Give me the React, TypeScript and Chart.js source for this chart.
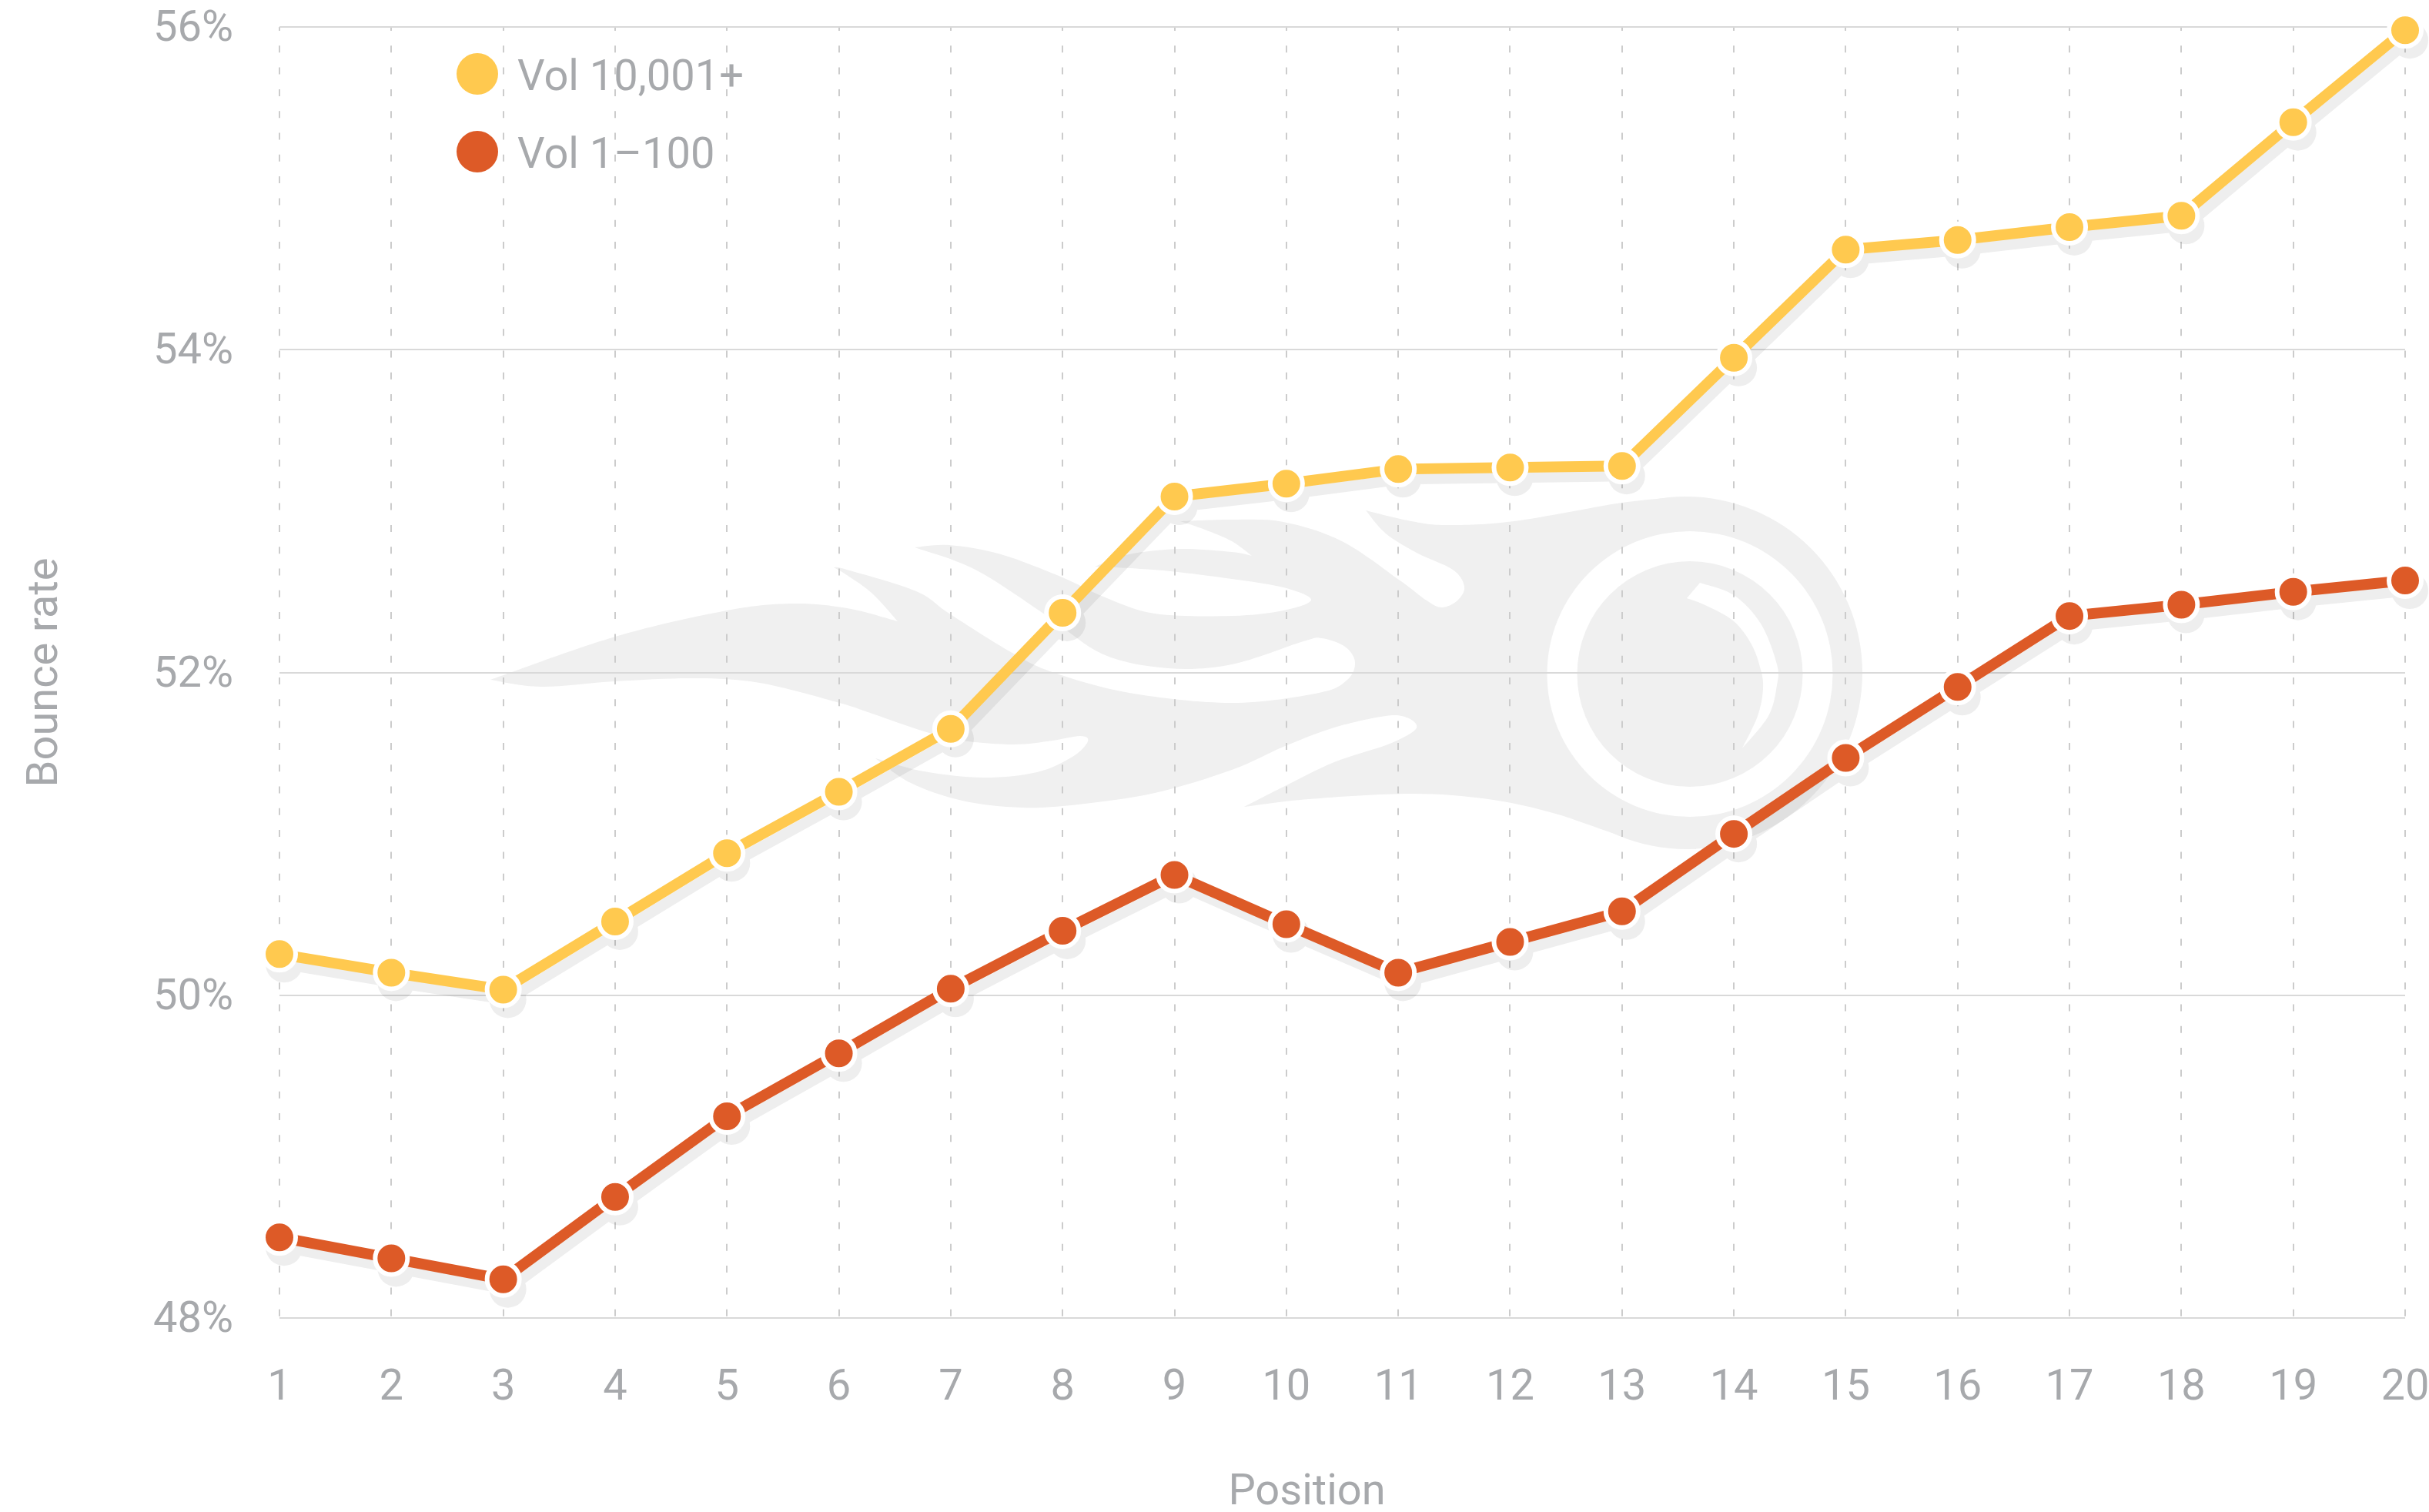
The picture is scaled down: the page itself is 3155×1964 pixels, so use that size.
import React, { useEffect, useRef } from "react";
import { Chart, registerables } from "chart.js";

Chart.register(...registerables);

const positions = ["1","2","3","4","5","6","7","8","9","10","11","12","13","14","15","16","17","18","19","20"];
const volHigh = [50.255,50.14,50.035,50.457,50.88,51.26,51.65,52.37,53.09,53.17,53.26,53.27,53.28,53.95,54.62,54.68,54.76,54.83,55.41,55.98];
const volLow = [48.5,48.37,48.24,48.75,49.25,49.64,50.04,50.4,50.745,50.44,50.14,50.33,50.52,51.0,51.47,51.91,52.35,52.42,52.5,52.57];
const seriesNames = ["Vol 10,001+", "Vol 1\u2013100"];
const seriesColors = ["#ffc94f", "#dd5a27"];
const TEXT = "#a7a9ac";
const FONT_SIZE = 56;
const FONT_FAMILY = "Roboto";
const FONT_WEIGHT = "400";

type P = [number, number];
// Background brand watermark outline (decoration, not data)
const flame: P[][] = [
  [[637,883],[799,827],[944,793],[1030,784],[1100,790],[1166,807]],
  [[1166,807],[1133,771],[1100,747],[1083,737]],
  [[1083,737],[1100,740],[1190,768],[1233,797],[1313,847],[1367,873],[1467,900],[1600,913],[1713,900],[1750,883],[1760,860],[1747,840],[1717,829],[1693,833],[1600,863],[1517,868],[1433,850],[1360,800],[1267,740],[1188,711]],
  [[1188,711],[1233,708],[1300,720],[1380,750],[1433,775],[1500,797],[1600,800],[1667,793],[1703,779],[1667,763],[1600,752],[1520,742],[1450,737],[1422,736]],
  [[1422,736],[1467,720],[1533,713],[1600,717],[1626,722]],
  [[1626,722],[1600,703],[1565,688],[1533,677]],
  [[1533,677],[1600,675],[1667,678],[1743,703],[1817,753],[1853,780],[1873,789],[1893,780],[1902,762],[1887,740],[1840,718],[1800,693],[1774,663]],
  [[1774,663],[1833,677],[1880,682],[1967,677],[2107,653],[2190,645]],
  [[2203,1103],[2150,1098],[2100,1084],[2017,1056],[1933,1038],[1833,1031],[1700,1038],[1616,1048]],
  [[1616,1048],[1667,1022],[1733,990],[1800,968],[1833,952],[1840,942],[1827,932],[1800,930],[1733,945],[1667,970],[1600,1000],[1500,1030],[1400,1045],[1327,1049],[1250,1040],[1183,1017],[1137,985]],
  [[1137,985],[1200,1002],[1277,1010],[1347,1003],[1393,983],[1413,963],[1403,956],[1367,962],[1317,967],[1250,962],[1200,950],[1133,927],[1087,912],[987,887],[903,881],[799,885],[703,892],[637,883]],
];
const glintOuter: P[] = [[2208,757],[2252,773],[2287,810],[2308,863],[2308,890],[2297,930],[2263,972]];
const glintInner: P[] = [[2263,972],[2283,930],[2290,895],[2287,870],[2275,837],[2252,807],[2217,787],[2191,777]];

function smooth(ctx: any, pts: P[], move: boolean) {
  if (move) ctx.moveTo(pts[0][0], pts[0][1]);
  else ctx.lineTo(pts[0][0], pts[0][1]);
  for (let i = 0; i < pts.length - 1; i++) {
    const p0 = pts[Math.max(i - 1, 0)], p1 = pts[i], p2 = pts[i + 1], p3 = pts[Math.min(i + 2, pts.length - 1)];
    ctx.bezierCurveTo(
      p1[0] + (p2[0] - p0[0]) / 6, p1[1] + (p2[1] - p0[1]) / 6,
      p2[0] - (p3[0] - p1[0]) / 6, p2[1] - (p3[1] - p1[1]) / 6,
      p2[0], p2[1]
    );
  }
}

const watermark = {
  id: "watermark",
  beforeDraw(chart: any) {
    const ctx = chart.ctx;
    ctx.save();
    ctx.fillStyle = "#f0f0f0";
    ctx.beginPath();
    flame.forEach((seg, i) => smooth(ctx, seg, i === 0));
    ctx.closePath();
    ctx.fill();
    ctx.beginPath();
    ctx.arc(2190, 874, 229, 0, Math.PI * 2);
    ctx.fill();
    ctx.fillStyle = "#ffffff";
    ctx.beginPath();
    ctx.arc(2195, 875.5, 185.5, 0, Math.PI * 2);
    ctx.fill();
    ctx.fillStyle = "#f0f0f0";
    ctx.beginPath();
    ctx.arc(2195, 875.5, 146.5, 0, Math.PI * 2);
    ctx.fill();
    ctx.fillStyle = "#ffffff";
    ctx.beginPath();
    smooth(ctx, glintOuter, true);
    smooth(ctx, glintInner, false);
    ctx.closePath();
    ctx.fill();
    ctx.restore();
  },
};

const dropShadow = {
  id: "dropShadow",
  beforeDatasetsDraw(chart: any) {
    const off = document.createElement("canvas");
    off.width = chart.width;
    off.height = chart.height;
    const o = off.getContext("2d") as CanvasRenderingContext2D;
    o.fillStyle = "#eeeeee";
    o.strokeStyle = "#eeeeee";
    o.lineWidth = 14;
    o.lineJoin = "round";
    chart.data.datasets.forEach((_: any, i: number) => {
      const pts = chart.getDatasetMeta(i).data;
      o.beginPath();
      pts.forEach((p: any, j: number) => (j ? o.lineTo(p.x + 6, p.y + 13) : o.moveTo(p.x + 6, p.y + 13)));
      o.stroke();
      pts.forEach((p: any) => {
        o.beginPath();
        o.arc(p.x + 6, p.y + 13, 24, 0, Math.PI * 2);
        o.fill();
      });
    });
    const ctx = chart.ctx;
    ctx.save();
    ctx.globalCompositeOperation = "multiply";
    ctx.drawImage(off, 0, 0);
    ctx.restore();
  },
};

const insetLegend = {
  id: "insetLegend",
  afterDraw(chart: any) {
    const ctx = chart.ctx;
    ctx.save();
    ctx.font = `${FONT_WEIGHT} ${FONT_SIZE}px ${FONT_FAMILY}`;
    ctx.textBaseline = "alphabetic";
    ctx.textAlign = "left";
    chart.data.datasets.forEach((d: any, i: number) => {
      const y = 96 + i * 101;
      ctx.fillStyle = d.borderColor;
      ctx.beginPath();
      ctx.arc(620, y, 27, 0, Math.PI * 2);
      ctx.fill();
      ctx.fillStyle = TEXT;
      ctx.fillText(d.label, 672, y + 20.5);
    });
    ctx.restore();
  },
};

export default function App() {
  const ref = useRef<HTMLCanvasElement>(null);
  useEffect(() => {
    const font = { family: FONT_FAMILY, size: FONT_SIZE, weight: FONT_WEIGHT as any };
    const make = (label: string, data: number[], color: string) => ({
      label,
      data,
      borderColor: color,
      backgroundColor: color,
      borderWidth: 14,
      tension: 0,
      clip: false as any,
      pointRadius: 21,
      pointHoverRadius: 21,
      pointBorderWidth: 6,
      pointBorderColor: "#ffffff",
      pointBackgroundColor: color,
    });
    const chart = new Chart(ref.current as HTMLCanvasElement, {
      type: "line",
      data: {
        labels: positions,
        datasets: [make(seriesNames[0], volHigh, seriesColors[0]), make(seriesNames[1], volLow, seriesColors[1])],
      },
      plugins: [watermark, dropShadow, insetLegend],
      options: {
        animation: false,
        responsive: false,
        devicePixelRatio: 1,
        layout: { autoPadding: false, padding: { top: 35, right: 31, left: 0, bottom: 0 } },
        plugins: { legend: { display: false }, tooltip: { enabled: false } },
        scales: {
          x: {
            offset: false,
            afterFit: (s: any) => {
              s.height = 252;
              s.paddingLeft = 0;
              s.paddingRight = 0;
              if (!s.titleShifted) {
                s.titleShifted = true;
                const draw = s.drawTitle.bind(s);
                s.drawTitle = () => {
                  s.ctx.save();
                  s.ctx.translate(-46, 10);
                  draw();
                  s.ctx.restore();
                };
              }
            },
            grid: { color: "#cccccc", lineWidth: 2, drawTicks: false },
            border: { display: false, dash: [9, 19.3], dashOffset: 4 },
            ticks: { color: TEXT, font, padding: 58, autoSkip: false, maxRotation: 0 },
            title: { display: true, text: "Position", color: TEXT, font, padding: { top: 62, bottom: 0 } },
          },
          y: {
            min: 48,
            max: 56,
            afterFit: (s: any) => {
              s.width = 363;
              s.paddingTop = 0;
              s.paddingBottom = 0;
              if (!s.labelsShifted) {
                s.labelsShifted = true;
                const draw = s.drawLabels.bind(s);
                s.drawLabels = (area: any) => {
                  s.ctx.save();
                  s.ctx.translate(0, 4);
                  draw(area);
                  s.ctx.restore();
                };
              }
            },
            grid: { color: "#d9d9d9", lineWidth: 2, drawTicks: false },
            border: { display: false },
            ticks: { color: TEXT, font, stepSize: 2, padding: 60, callback: (v: any) => `${v}%` },
            title: { display: true, text: "Bounce rate", color: TEXT, font, padding: { top: 26, bottom: 0 } },
          },
        },
      },
    });
    return () => chart.destroy();
  }, []);
  return (
    <canvas
      ref={ref}
      width={3155}
      height={1964}
      style={{ position: "fixed", left: 0, top: 0, width: 3155, height: 1964, display: "block" }}
    />
  );
}
